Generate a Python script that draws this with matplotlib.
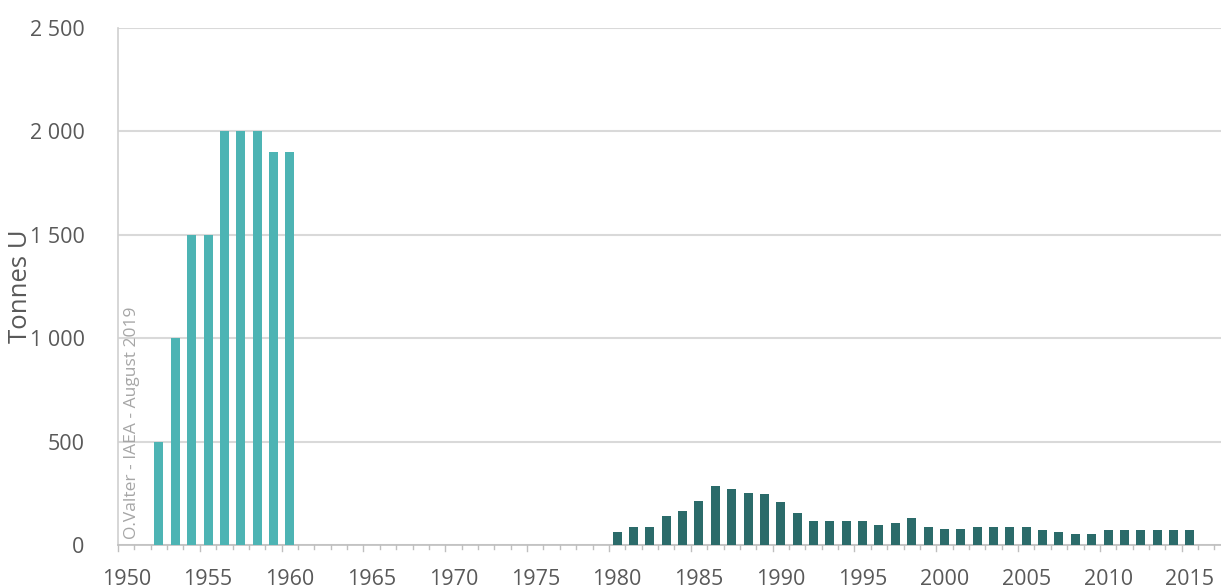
import matplotlib
matplotlib.use("Agg")
import matplotlib.pyplot as plt
from matplotlib.ticker import FixedLocator, FuncFormatter

# Annual uranium production (tonnes U)
early_years = [1952, 1953, 1954, 1955, 1956, 1957, 1958, 1959, 1960]
early_values = [500, 1000, 1500, 1500, 2000, 2000, 2000, 1900, 1900]

late_years = list(range(1980, 2016))
late_values = [65, 86, 86, 138, 162, 213, 284, 273, 253, 247,
               206, 154, 115, 115, 115, 115, 97, 104, 130, 86,
               76, 76, 86, 86, 86, 86, 71, 65, 54, 54,
               71, 71, 71, 71, 71, 71]

x_labels = [1950, 1955, 1960, 1965, 1970, 1975, 1980, 1985, 1990,
            1995, 2000, 2005, 2010, 2015]
y_ticks = [0, 500, 1000, 1500, 2000, 2500]

plt.rcParams['font.family'] = ['Open Sans', 'DejaVu Sans']
text_grey = '#595959'

fig = plt.figure(figsize=(12.21, 5.88), dpi=100)
ax_w = 1 - 118 / 1221
ax = fig.add_axes([118 / 1221, 1 - 545 / 588, ax_w, (545 - 28) / 588])

ax.bar(early_years, early_values, width=0.55, color='#4DB4B4', zorder=3)
ax.bar(late_years, late_values, width=0.55, color='#2B6B6A', zorder=3)

ax.set_xlim(1949.5, 2016.9)
ax.set_ylim(0, 2500)

ax.yaxis.set_major_locator(FixedLocator(y_ticks))
ax.yaxis.set_major_formatter(FuncFormatter(
    lambda v, p: f"{int(v):,}".replace(",", " ")))
ax.tick_params(axis='y', length=0, pad=24, labelsize=15.5, labelcolor=text_grey)
ax.grid(axis='y', color='#D9D9D9', linewidth=1.5, zorder=0)

# year labels at category centres, tick marks on category boundaries
ax.set_xticks(x_labels)
ax.set_xticklabels([str(y) for y in x_labels])
ax.tick_params(axis='x', length=0, pad=17, labelsize=15.5, labelcolor=text_grey)
for y in range(1950, 2018):
    xb = y - 0.5
    tl = 6 if (y % 5 == 0) else 3.5
    ax.plot([xb, xb], [0, -tl * 2500 / 517], color='#BFBFBF', lw=1,
            clip_on=False, zorder=2)

for s in ['top', 'right']:
    ax.spines[s].set_visible(False)
ax.spines['left'].set_color('#D0D0D0')
ax.spines['left'].set_linewidth(1.2)
ax.spines['bottom'].set_color('#BFBFBF')
ax.spines['bottom'].set_linewidth(1.2)

ax.set_ylabel('Tonnes U', fontsize=18.5, color=text_grey)
ax.yaxis.set_label_coords((33 - 118) / (ax_w * 1221), 0.5)

ax.text(1950.35, 30, 'O.Valter - IAEA - August 2019', rotation=90,
        fontsize=12.5, color='#A6A6A6', ha='center', va='bottom', zorder=4)

fig.savefig('out.png', dpi=100, facecolor='white')
